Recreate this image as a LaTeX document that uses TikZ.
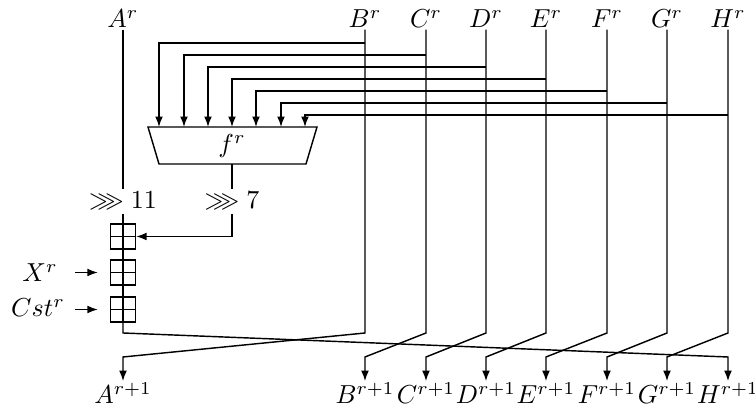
\documentclass[tikz,border=0pt]{standalone}
\usepackage{amssymb}
\usetikzlibrary{arrows.meta}
\begin{document}
\begin{tikzpicture}[x=0.3846pt,y=-0.3846pt,
  line width=0.55pt,
  lbl/.style={anchor=base,inner sep=0.4pt},
  rot/.style={anchor=base,inner xsep=0pt,inner ysep=1.15pt},
  arr/.style={-{Latex[length=4pt,width=3pt]}},
  addbox/.style={draw,minimum size=9.6pt,inner sep=0pt,
    path picture={\draw (path picture bounding box.north) -- (path picture bounding box.south)
                        (path picture bounding box.west) -- (path picture bounding box.east);}}]
\useasboundingbox (0,0) rectangle (755,409);

% state words before the round
\node[lbl] (tA) at (123,28) {$A^r$};
\node[lbl] (tB) at (365,28) {$B^r$};
\node[lbl] (tC) at (426,28) {$C^r$};
\node[lbl] (tD) at (486,28) {$D^r$};
\node[lbl] (tE) at (546,28) {$E^r$};
\node[lbl] (tF) at (607,28) {$F^r$};
\node[lbl] (tG) at (667,28) {$G^r$};
\node[lbl] (tH) at (728,28) {$H^r$};

% state words after the round
\node[lbl] (bA) at (123,404) {$A^{r+1}$};
\node[lbl] (bB) at (365,404) {$B^{r+1}$};
\node[lbl] (bC) at (426,404) {$C^{r+1}$};
\node[lbl] (bD) at (486,404) {$D^{r+1}$};
\node[lbl] (bE) at (546,404) {$E^{r+1}$};
\node[lbl] (bF) at (607,404) {$F^{r+1}$};
\node[lbl] (bG) at (667,404) {$G^{r+1}$};
\node[lbl] (bH) at (728,404) {$H^{r+1}$};

% levels of the branches and of the word shift
\coordinate (h1) at (0,43);
\coordinate (h2) at (0,55);
\coordinate (h3) at (0,67);
\coordinate (h4) at (0,79);
\coordinate (h5) at (0,91);
\coordinate (h6) at (0,103);
\coordinate (h7) at (0,115);
\coordinate (lo) at (0,333);
\coordinate (hi) at (0,357);

% round function f^r
\draw (148,127) -- (317,127) -- (306,164) -- (159,164) -- cycle;
\node (f) at (232,146) {$f^r$};
\coordinate (in1) at (159,127);
\coordinate (in2) at (184,127);
\coordinate (in3) at (208,127);
\coordinate (in4) at (232,127);
\coordinate (in5) at (256,127);
\coordinate (in6) at (281,127);
\coordinate (in7) at (305,127);
\coordinate (fout) at (232,164);

% inputs of f^r
\draw[arr] (tB |- h1) -| (in1);
\draw[arr] (tC |- h2) -| (in2);
\draw[arr] (tD |- h3) -| (in3);
\draw[arr] (tE |- h4) -| (in4);
\draw[arr] (tF |- h5) -| (in5);
\draw[arr] (tG |- h6) -| (in6);
\draw[arr] (tH |- h7) -| (in7);

% rotations
\node[rot] (r11) at (123,209) {$\ggg 11$};
\node[rot] (r7) at (232,209) {$\ggg 7$};

% modular additions
\node[addbox] (p1) at (123,236.5) {};
\node[addbox] (p2) at (123,272.5) {};
\node[addbox] (p3) at (123,309.5) {};

\node[lbl] (X) at (40,282) {$X^r$};
\node[lbl] (K) at (38,317) {$Cst^r$};
\coordinate (xin) at (75,272.5);
\coordinate (kin) at (75,309.5);

\draw (tA) -- (r11);
\draw (r11) -- (p1) -- (p2) -- (p3);
\draw (fout) -- (r7);
\draw[arr] (r7) |- (p1);
\draw[arr] (xin) -- ([xshift=-4.6pt]p2.west);
\draw[arr] (kin) -- ([xshift=-4.6pt]p3.west);

% word shift
\draw[arr] (tB) -- (tB |- lo) -- (bA |- hi) -- (bA);
\draw[arr] (tC) -- (tC |- lo) -- (bB |- hi) -- (bB);
\draw[arr] (tD) -- (tD |- lo) -- (bC |- hi) -- (bC);
\draw[arr] (tE) -- (tE |- lo) -- (bD |- hi) -- (bD);
\draw[arr] (tF) -- (tF |- lo) -- (bE |- hi) -- (bE);
\draw[arr] (tG) -- (tG |- lo) -- (bF |- hi) -- (bF);
\draw[arr] (tH) -- (tH |- lo) -- (bG |- hi) -- (bG);
\draw[arr] (p3) -- (p3 |- lo) -- (bH |- hi) -- (bH);
\end{tikzpicture}
\end{document}
